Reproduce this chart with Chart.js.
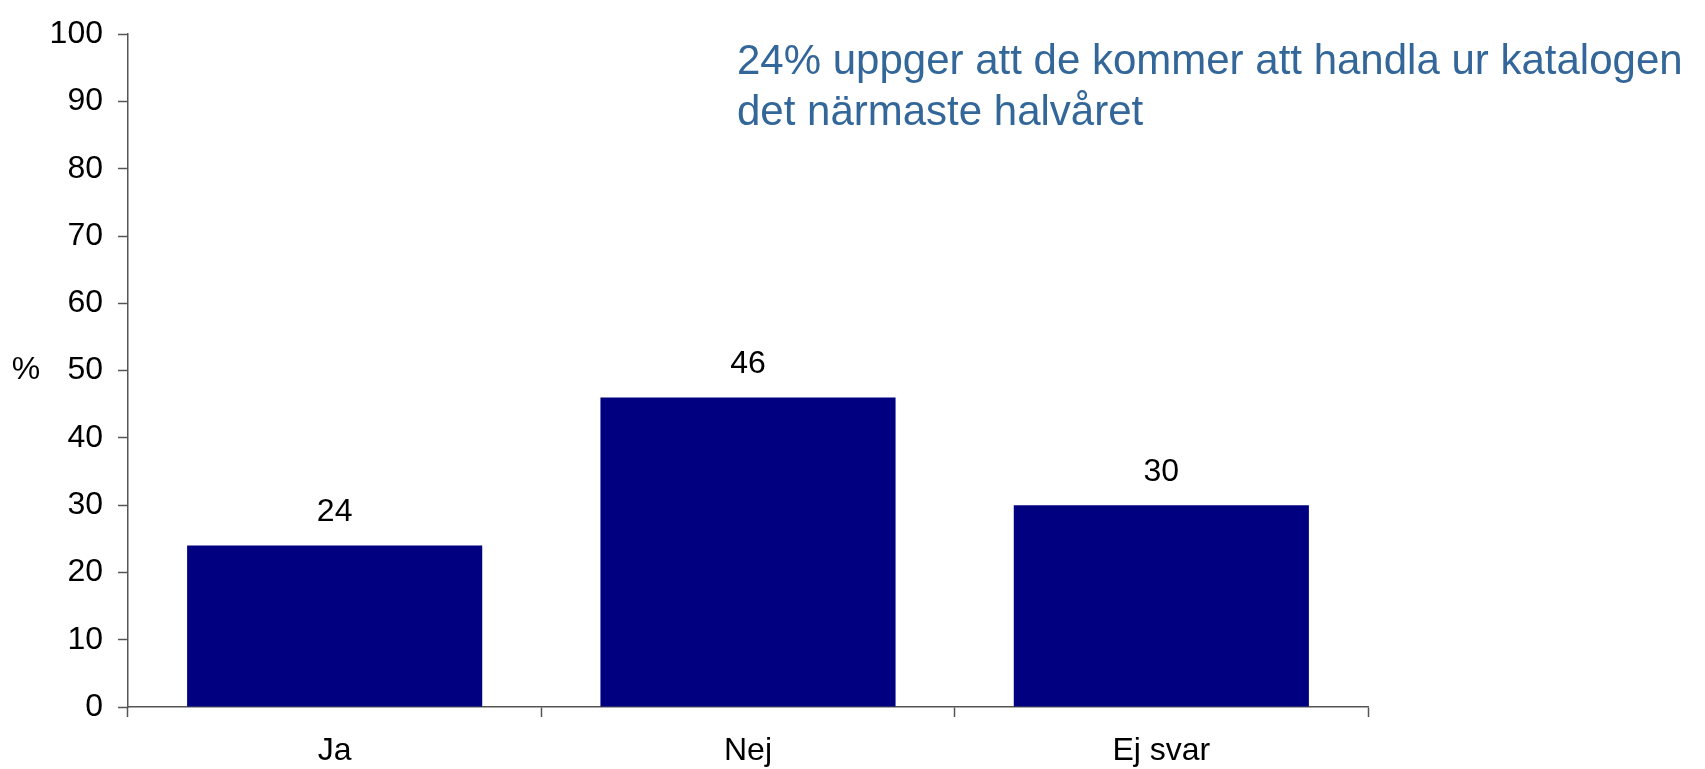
<!DOCTYPE html>
<html>
<head>
<meta charset="utf-8">
<script src="https://cdn.jsdelivr.net/npm/chart.js@4/dist/chart.umd.min.js"></script>
<style>
  html, body { margin: 0; padding: 0; background: #fff; }
  #wrap { width: 1705px; height: 769px; position: relative; }
</style>
</head>
<body>
<div id="wrap"><canvas id="chart" width="1705" height="769"></canvas></div>
<script>
  const categories = ["Ja", "Nej", "Ej svar"];
  const values = [24, 46, 30];
  const yTicks = [0, 10, 20, 30, 40, 50, 60, 70, 80, 90, 100];
  const headline = ["24% uppger att de kommer att handla ur katalogen", "det närmaste halvåret"];
  const unitLabel = "%";

  const FONT = "'Liberation Sans', Arial, sans-serif";
  const axisColor = "#555555";

  const valueLabels = {
    id: "valueLabels",
    afterDatasetsDraw(chart) {
      const ctx = chart.ctx;
      const meta = chart.getDatasetMeta(0);
      ctx.save();
      ctx.font = `32px ${FONT}`;
      ctx.fillStyle = "#000";
      ctx.textAlign = "center";
      ctx.textBaseline = "middle";
      meta.data.forEach((bar, i) => {
        ctx.fillText(String(values[i]), bar.x, bar.y - 33);
      });
      ctx.restore();
    }
  };

  const extraText = {
    id: "extraText",
    afterDraw(chart) {
      const ctx = chart.ctx;
      const y = chart.scales.y;
      ctx.save();
      // headline in the upper right
      ctx.font = `42px ${FONT}`;
      ctx.fillStyle = "#336699";
      ctx.textAlign = "left";
      ctx.textBaseline = "alphabetic";
      headline.forEach((line, i) => ctx.fillText(line, 737, 74 + i * 51));
      // unit next to the y axis, level with 50
      ctx.font = `32px ${FONT}`;
      ctx.fillStyle = "#000";
      ctx.textAlign = "center";
      ctx.textBaseline = "middle";
      ctx.fillText(unitLabel, 26, y.getPixelForValue(50));
      ctx.restore();
    }
  };

  new Chart(document.getElementById("chart"), {
    type: "bar",
    data: {
      labels: categories,
      datasets: [{
        data: values,
        backgroundColor: "#000080",
        borderWidth: 0,
        barPercentage: 0.714,
        categoryPercentage: 1
      }]
    },
    options: {
      responsive: false,
      animation: false,
      layout: { padding: { top: 26, right: 337, left: 0, bottom: 0 } },
      plugins: { legend: { display: false }, tooltip: { enabled: false } },
      scales: {
        x: {
          grid: { offset: true, drawOnChartArea: false, drawTicks: true, tickLength: 10, tickColor: axisColor, tickWidth: 1.5 },
          border: { color: axisColor, width: 1.5 },
          ticks: { color: "#000", font: { family: FONT, size: 32 }, padding: 15 },
          afterFit: (scale) => { scale.height = 62; }
        },
        y: {
          min: 0,
          max: 100,
          afterBuildTicks: (scale) => { scale.ticks = yTicks.map((v) => ({ value: v })); },
          grid: { drawOnChartArea: false, drawTicks: true, tickLength: 10, tickColor: axisColor, tickWidth: 1.5 },
          border: { color: axisColor, width: 1.5 },
          ticks: { color: "#000", font: { family: FONT, size: 32 }, padding: 15 },
          afterFit: (scale) => { scale.width = 128; }
        }
      }
    },
    plugins: [valueLabels, extraText]
  });
</script>
</body>
</html>
